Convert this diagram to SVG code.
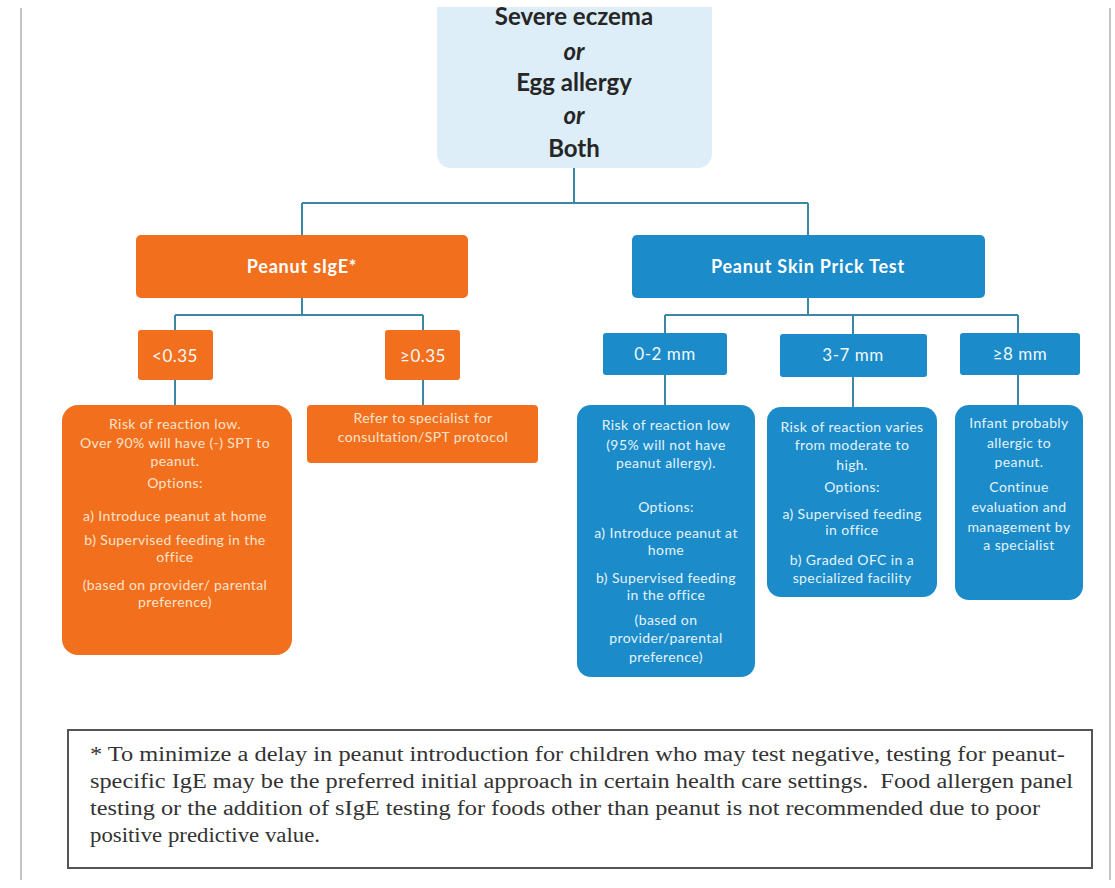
<svg xmlns="http://www.w3.org/2000/svg" width="1115" height="888" viewBox="0 0 1115 888">
<style>
.o{fill:#f26f1d}
.b{fill:#1b8bc9}
.t{font-family:Lato,"Liberation Sans",sans-serif;text-anchor:middle}
.hd{font-size:18px;font-weight:bold;fill:#ffffff;letter-spacing:0.8px}
.lb{font-size:17px;fill:#f2f8fc;letter-spacing:0.5px}
.sm{font-size:14px;letter-spacing:0.4px}
.so{fill:#fde3cc}
.sb{fill:#e3f3fc}
.top{font-size:24px;font-weight:bold;fill:#262626}
.ft{font-family:"Liberation Serif","Times New Roman",serif;font-size:20px;fill:#333333}
.cn{fill:none;stroke:#3c86a6;stroke-width:2}
</style>
<rect x="0" y="0" width="1115" height="888" fill="#ffffff"/>
<line x1="21" y1="8" x2="21" y2="880" stroke="#c4c4c4" stroke-width="2"/>
<line x1="1110" y1="8" x2="1110" y2="880" stroke="#c4c4c4" stroke-width="2"/>

<g id="connectors" class="cn">
<path d="M574 168V203M302 203H808M302 203V235M808 203V235"/>
<path d="M302 298V315M175 315H423M175 315V330M423 315V330"/>
<path d="M175 380V405M423 380V405"/>
<path d="M808 298V315M665 315H1018M665 315V333M853 315V334M1018 315V333"/>
<path d="M665 375V405M853 377V407M1018 375V405"/>
</g>

<g id="root">
<path d="M437 7H712V154A14 14 0 0 1 698 168H451A14 14 0 0 1 437 154Z" fill="#ddeef8"/>
<text class="t top" x="574" y="25">Severe eczema</text>
<text class="t top" x="574" y="60" font-style="italic">or</text>
<text class="t top" x="574" y="91">Egg allergy</text>
<text class="t top" x="574" y="124" font-style="italic">or</text>
<text class="t top" x="574" y="157">Both</text>
</g>

<g id="sige">
<rect class="o" x="136" y="235" width="332" height="63" rx="5"/>
<text class="t hd" x="302" y="273">Peanut sIgE*</text>
</g>

<g id="spt">
<rect class="b" x="632" y="235" width="353" height="63" rx="5"/>
<text class="t hd" x="808" y="273">Peanut Skin Prick Test</text>
</g>

<g id="lt035">
<rect class="o" x="138" y="330" width="75" height="50" rx="3"/>
<text class="t lb" x="175" y="362">&lt;0.35</text>
</g>

<g id="ge035">
<rect class="o" x="385" y="330" width="75" height="50" rx="3"/>
<text class="t lb" x="423" y="362">≥0.35</text>
</g>

<g id="mm02">
<rect class="b" x="603" y="333" width="124" height="42" rx="3"/>
<text class="t lb" x="665" y="360">0-2 mm</text>
</g>

<g id="mm37">
<rect class="b" x="780" y="334" width="147" height="43" rx="3"/>
<text class="t lb" x="853" y="361">3-7 mm</text>
</g>

<g id="mm8">
<rect class="b" x="960" y="333" width="120" height="42" rx="3"/>
<text class="t lb" x="1020" y="360">≥8 mm</text>
</g>

<g id="lowrisk-sige" class="t sm so">
<rect class="o" x="62" y="405" width="230" height="250" rx="16"/>
<text x="175" y="429">Risk of reaction low.</text>
<text x="175" y="448">Over 90% will have (-) SPT to</text>
<text x="175" y="466">peanut.</text>
<text x="175" y="488">Options:</text>
<text x="175" y="521">a) Introduce peanut at home</text>
<text x="175" y="545">b) Supervised feeding in the</text>
<text x="175" y="562">office</text>
<text x="175" y="590">(based on provider/ parental</text>
<text x="175" y="607">preference)</text>
</g>

<g id="refer" class="t sm so">
<rect class="o" x="307" y="405" width="231" height="58" rx="4"/>
<text x="423" y="423">Refer to specialist for</text>
<text x="423" y="442">consultation/SPT protocol</text>
</g>

<g id="lowrisk-spt" class="t sm sb">
<rect class="b" x="577" y="405" width="178" height="272" rx="14"/>
<text x="666" y="430">Risk of reaction low</text>
<text x="666" y="450">(95% will not have</text>
<text x="666" y="468">peanut allergy).</text>
<text x="666" y="512">Options:</text>
<text x="666" y="538">a) Introduce peanut at</text>
<text x="666" y="555">home</text>
<text x="666" y="583">b) Supervised feeding</text>
<text x="666" y="600">in the office</text>
<text x="666" y="625">(based on</text>
<text x="666" y="643">provider/parental</text>
<text x="666" y="662">preference)</text>
</g>

<g id="moderate" class="t sm sb">
<rect class="b" x="767" y="407" width="170" height="190" rx="14"/>
<text x="852" y="432">Risk of reaction varies</text>
<text x="852" y="450">from moderate to</text>
<text x="852" y="470">high.</text>
<text x="852" y="492">Options:</text>
<text x="852" y="519">a) Supervised feeding</text>
<text x="852" y="535">in office</text>
<text x="852" y="565">b) Graded OFC in a</text>
<text x="852" y="583">specialized facility</text>
</g>

<g id="allergic" class="t sm sb">
<rect class="b" x="955" y="405" width="128" height="195" rx="14"/>
<text x="1019" y="428">Infant probably</text>
<text x="1019" y="448">allergic to</text>
<text x="1019" y="467">peanut.</text>
<text x="1019" y="492">Continue</text>
<text x="1019" y="512">evaluation and</text>
<text x="1019" y="532">management by</text>
<text x="1019" y="550">a specialist</text>
</g>

<g id="footnote">
<rect x="68" y="730" width="1024" height="138" fill="#ffffff" stroke="#555555" stroke-width="2"/>
<text class="ft" x="90" y="761" textLength="975" lengthAdjust="spacingAndGlyphs">* To minimize a delay in peanut introduction for children who may test negative, testing for peanut-</text>
<text class="ft" x="90" y="788" textLength="983" lengthAdjust="spacingAndGlyphs" xml:space="preserve">specific IgE may be the preferred initial approach in certain health care settings.  Food allergen panel</text>
<text class="ft" x="90" y="815" textLength="950" lengthAdjust="spacingAndGlyphs">testing or the addition of sIgE testing for foods other than peanut is not recommended due to poor</text>
<text class="ft" x="90" y="842" textLength="230" lengthAdjust="spacingAndGlyphs">positive predictive value.</text>
</g>
</svg>
